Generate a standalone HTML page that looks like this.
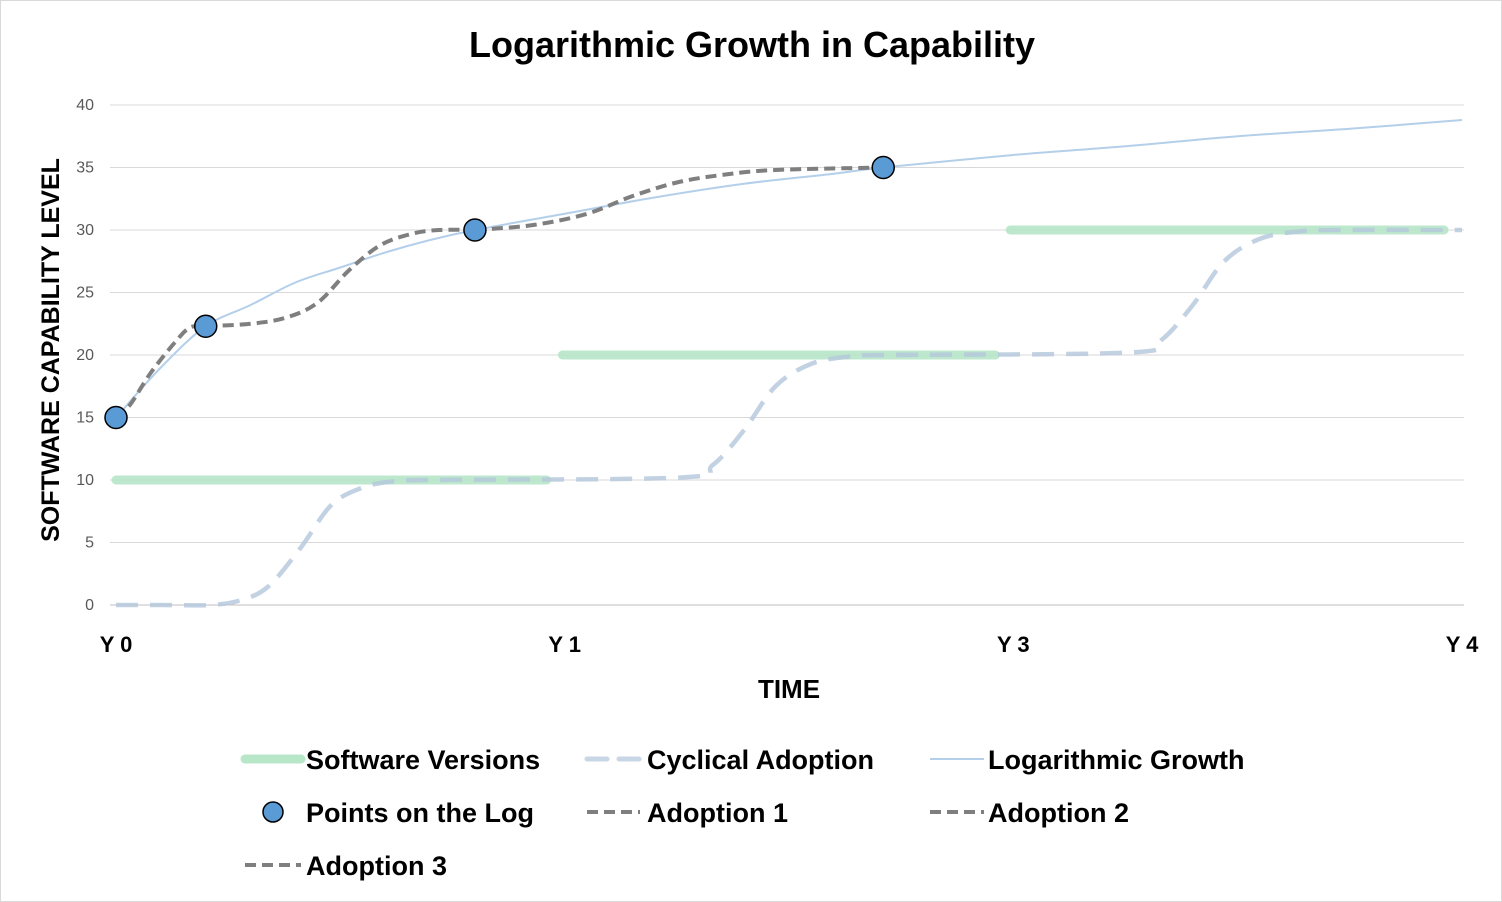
<!DOCTYPE html>
<html><head><meta charset="utf-8"><style>
body{margin:0;background:#fff;}
svg{display:block;font-family:"Liberation Sans",Arial,sans-serif;}
</style></head><body>
<svg id="chart" width="1502" height="902">
<rect x="0.5" y="0.5" width="1501" height="901" fill="#fff" stroke="#d9d9d9"/>
<text x="752" y="57" text-anchor="middle" font-size="36" font-weight="bold" fill="#000">Logarithmic Growth in Capability</text>
<g id="grid"></g><g id="yticks"></g><g id="xticks"></g><g id="series"></g>
<text transform="translate(59,350) rotate(-90)" text-anchor="middle" font-size="25" font-weight="bold">SOFTWARE CAPABILITY LEVEL</text>
<text x="789" y="698" text-anchor="middle" font-size="26" font-weight="bold">TIME</text>
<g id="legend" font-size="27" font-weight="bold">
<g><line x1="245" y1="759" x2="301" y2="759" stroke="#b8e6c8" stroke-width="9" stroke-linecap="round"/><text x="306" y="769">Software Versions</text></g>
<g><line x1="587" y1="759" x2="640" y2="759" stroke="#c9d6e6" stroke-width="5" stroke-dasharray="20,12" stroke-linecap="round"/><text x="647" y="769">Cyclical Adoption</text></g>
<g><line x1="930" y1="759" x2="984" y2="759" stroke="#b4cfea" stroke-width="2"/><text x="988" y="769">Logarithmic Growth</text></g>
<g><circle cx="273" cy="812" r="10" fill="#5b9bd5" stroke="#000" stroke-width="1.5"/><text x="306" y="822">Points on the Log</text></g>
<g><line x1="587" y1="812" x2="640" y2="812" stroke="#7f7f7f" stroke-width="4" stroke-dasharray="11,6"/><text x="647" y="822">Adoption 1</text></g>
<g><line x1="930" y1="812" x2="984" y2="812" stroke="#7f7f7f" stroke-width="4" stroke-dasharray="11,6"/><text x="988" y="822">Adoption 2</text></g>
<g><line x1="245" y1="865" x2="301" y2="865" stroke="#7f7f7f" stroke-width="4" stroke-dasharray="11,6"/><text x="306" y="875">Adoption 3</text></g>
</g>
</svg>
<script>
const yTicks=[0,5,10,15,20,25,30,35,40];
const xLabels=["Y 0","Y 1","Y 3","Y 4"];
const logX=[0,0.1,0.2,0.3,0.4,0.5,0.6,0.7,0.8,1.0,1.2,1.4,1.6,1.71,2.0,2.25,2.5,2.75,3.0];
const logY=[15,19,22.3,24,25.8,27,28.2,29.2,30,31.3,32.6,33.7,34.5,35,36,36.7,37.5,38.1,38.8];
const pointX=[0,0.2,0.8,1.71];
const pointY=[15,22.3,30,35];
const cycX=[0,0.1,0.21,0.28,0.34,0.41,0.48,0.55,0.62,0.7,1.26,1.33,1.4,1.47,1.55,1.64,1.72,2.26,2.33,2.4,2.47,2.55,2.64,2.73,3.0];
const cycY=[0,0,0,0.4,1.5,4.5,8,9.4,9.9,10,10.2,11.2,14,17.5,19.3,19.9,20,20.2,21.2,24,27.5,29.3,29.9,30,30];
const verStart=[0,0.995,1.993];
const verEnd=[0.96,1.96,2.96];
const verY=[10,20,30];
const ad1X=[0,0.031,0.076,0.131,0.165,0.2];
const ad1Y=[15,16,18.5,21,22.2,22.3];
const ad2X=[0.2,0.3,0.38,0.45,0.52,0.59,0.66,0.72,0.8];
const ad2Y=[22.3,22.5,23,24.2,26.8,28.8,29.7,30,30];
const ad3X=[0.8,0.93,1.05,1.15,1.25,1.35,1.47,1.71];
const ad3Y=[30,30.4,31.3,32.7,33.8,34.4,34.8,35];
const NS="http://www.w3.org/2000/svg";
const X0=116,X1=1462,Y0=605,Y1=105;
const sx=v=>X0+(X1-X0)*v/3, sy=v=>Y0-(Y0-Y1)*v/40;
function mk(t,a,p){const e=document.createElementNS(NS,t);for(const k in a)e.setAttribute(k,a[k]);document.getElementById(p).appendChild(e);return e;}
yTicks.forEach(t=>{
 const l=mk("line",{x1:110,x2:1464,y1:sy(t),y2:sy(t),stroke:t===0?"#bfbfbf":"#d9d9d9","stroke-width":1},"grid");
 
 
 const tx=mk("text",{x:94,y:sy(t)+5,"text-anchor":"end","font-size":16,fill:"#595959"},"yticks");tx.textContent=t;
 
 
});
xLabels.forEach((s,i)=>{
 const tx=mk("text",{x:sx(i),y:652,"text-anchor":"middle","font-size":22,"font-weight":"bold"},"xticks");tx.textContent=s;
 
 
});
function smooth(xs,ys){const p=xs.map((x,i)=>[sx(x),sy(ys[i])]);let d="M"+p[0][0]+","+p[0][1];
 for(let i=0;i<p.length-1;i++){const a=p[Math.max(0,i-1)],b=p[i],c=p[i+1],e=p[Math.min(p.length-1,i+2)];
 d+=" C"+(b[0]+(c[0]-a[0])/6)+","+(b[1]+(c[1]-a[1])/6)+" "+(c[0]-(e[0]-b[0])/6)+","+(c[1]-(e[1]-b[1])/6)+" "+c[0]+","+c[1];}return d;}
verY.forEach((v,i)=>{
 const l=mk("line",{x1:sx(verStart[i]),x2:sx(verEnd[i]),y1:sy(v),y2:sy(v),stroke:"#b8e6c8","stroke-width":9,"stroke-linecap":"round","opacity":0.9},"series");
 
 
});
let c=mk("path",{d:smooth(cycX,cycY),fill:"none",stroke:"#b4c7dc","stroke-width":4.5,"stroke-dasharray":"22,12","opacity":0.8},"series");


let g=mk("path",{d:smooth(logX,logY),fill:"none",stroke:"#b4cfea","stroke-width":2},"series");


[[ad1X,ad1Y,'adoption-1-line'],[ad2X,ad2Y,'adoption-2-line'],[ad3X,ad3Y,'adoption-3-line']].forEach(s=>{
 const p=mk("path",{d:smooth(s[0],s[1]),fill:"none",stroke:"#7f7f7f","stroke-width":4,"stroke-dasharray":"11,6"},"series");
 
 
});
pointX.forEach((x,i)=>{
 const p=mk("circle",{cx:sx(x),cy:sy(pointY[i]),r:11,fill:"#5b9bd5",stroke:"#000","stroke-width":1.5},"series");
 
 
});
</script>
</body></html>
